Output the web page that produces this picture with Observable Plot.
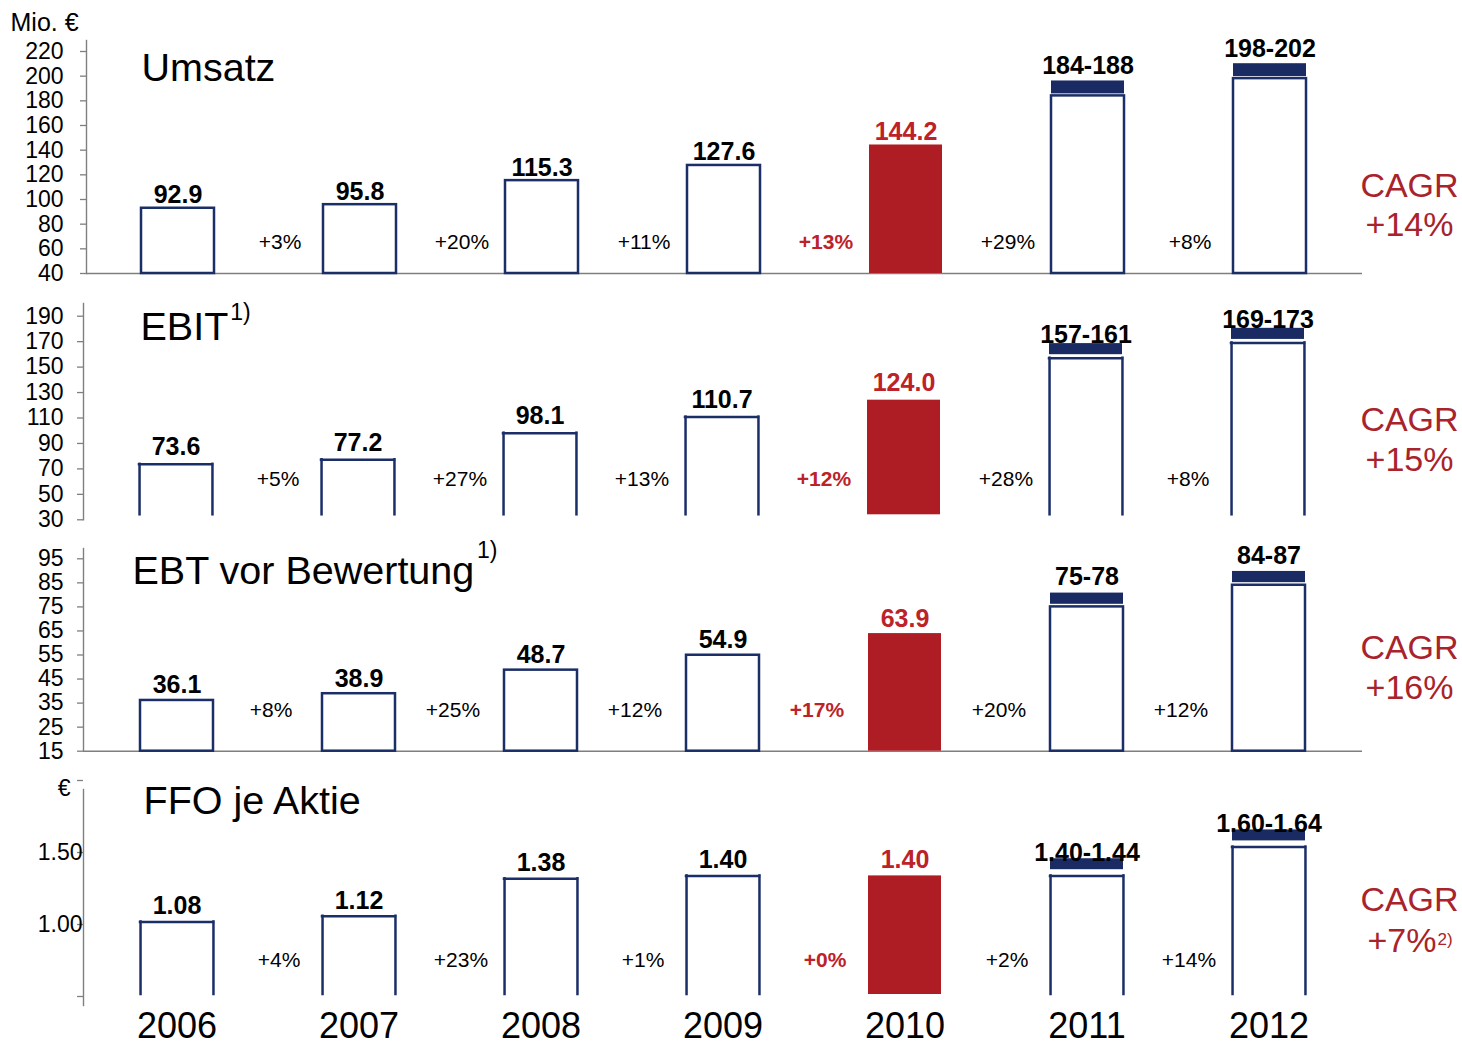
<!DOCTYPE html>
<html>
<head>
<meta charset="utf-8">
<script src="https://cdn.jsdelivr.net/npm/d3@7"></script>
<script src="https://cdn.jsdelivr.net/npm/@observablehq/plot@0.6"></script>
<style>
  body { margin: 0; background: #fff; }
  #chart { position: relative; width: 1462px; height: 1045px; overflow: hidden;
           font-family: "Liberation Sans", Arial, Helvetica, sans-serif; }
  #chart svg { position: absolute; left: 0; }
</style>
</head>
<body>
<div id="chart"></div>
<script>
// ---- Data -------------------------------------------------------------
const years = ["2006", "2007", "2008", "2009", "2010", "2011", "2012"];
const highlightYear = "2010";

const umsatzActual = [92.9, 95.8, 115.3, 127.6, 144.2];
const umsatzPlanLow = [184, 198];
const umsatzPlanHigh = [188, 202];
const umsatzGrowth = ["+3%", "+20%", "+11%", "+13%", "+29%", "+8%"];
const umsatzCagr = "+14%";
const umsatzTicks = [40, 60, 80, 100, 120, 140, 160, 180, 200, 220];

const ebitActual = [73.6, 77.2, 98.1, 110.7, 124.0];
const ebitPlanLow = [157, 169];
const ebitPlanHigh = [161, 173];
const ebitGrowth = ["+5%", "+27%", "+13%", "+12%", "+28%", "+8%"];
const ebitCagr = "+15%";
const ebitTicks = [30, 50, 70, 90, 110, 130, 150, 170, 190];

const ebtActual = [36.1, 38.9, 48.7, 54.9, 63.9];
const ebtPlanLow = [75, 84];
const ebtPlanHigh = [78, 87];
const ebtGrowth = ["+8%", "+25%", "+12%", "+17%", "+20%", "+12%"];
const ebtCagr = "+16%";
const ebtTicks = [15, 25, 35, 45, 55, 65, 75, 85, 95];

const ffoActual = [1.08, 1.12, 1.38, 1.40, 1.40];
const ffoPlanLow = [1.40, 1.60];
const ffoPlanHigh = [1.44, 1.64];
const ffoGrowth = ["+4%", "+23%", "+1%", "+0%", "+2%", "+14%"];
const ffoCagr = "+7%";
const ffoTicks = [0.5, 1.0, 1.5, 2.0];
const ffoTickLabels = ["", "1.00", "1.50", ""];

// ---- Styling ----------------------------------------------------------
const FONT = '"Liberation Sans", Arial, Helvetica, sans-serif';
const navy = "#1b2e68";
const capNavy = "#1a2b63";
const red = "#af1d24";
const redText = "#bd2229";
const cagrRed = "#a8232b";
const gray = "#7f7f7f";
const WIDTH = 1462;
const FRAME_RIGHT = 1362;
const TITLE_SIZE = 39.5;
const VALUE_SIZE = 25;

const measure = document.createElement("canvas").getContext("2d");
function textWidth(s, size, weight = "normal") {
  measure.font = `${weight} ${size}px "Liberation Sans", Arial, sans-serif`;
  return measure.measureText(s).width;
}

// Layout of the four stacked panels (page pixel positions).
const panels = [
  {
    title: "Umsatz", titleNote: null, unit: "Mio. €",
    actual: umsatzActual, low: umsatzPlanLow, high: umsatzPlanHigh,
    growth: umsatzGrowth, cagr: umsatzCagr, cagrNote: null,
    ticks: umsatzTicks, tickFormat: d => String(d), tickDy: 0, tickLabelRight: 63,
    domain: [40, 220], decimals: 1, rangeDecimals: 0,
    top: 0, height: 285, frameTop: 40, baseY: 273, maxY: 51, axisX: 86,
    xRange: [85, 1361], open: false, openGap: 0,
    valueDy: -5, rangeDy: -17, growthDy: -24.5, growthDx: -80,
    capInsetTop: -10, capInsetBottom: 2,
    titleX: 141, titleBaseline: 80, noteBaseline: 0,
    cagrX: 1409, cagrBaseline: 196.7, rateBaseline: 235
  },
  {
    title: "EBIT", titleNote: "1)", unit: null,
    actual: ebitActual, low: ebitPlanLow, high: ebitPlanHigh,
    growth: ebitGrowth, cagr: ebitCagr, cagrNote: null,
    ticks: ebitTicks, tickFormat: d => String(d), tickDy: 0, tickLabelRight: 63,
    domain: [30, 190], decimals: 1, rangeDecimals: 0,
    top: 285, height: 245, frameTop: 303, baseY: 519.3, maxY: 315.7, axisX: 83,
    xRange: [83, 1359], open: true, openGap: 5,
    valueDy: -9, rangeDy: -10, growthDy: -34.3, growthDx: -80,
    capInsetTop: -9.5, capInsetBottom: 3.5,
    titleX: 140, titleBaseline: 339, noteBaseline: 319,
    cagrX: 1409, cagrBaseline: 430, rateBaseline: 470
  },
  {
    title: "EBT vor Bewertung", titleNote: "1)", unit: null,
    actual: ebtActual, low: ebtPlanLow, high: ebtPlanHigh,
    growth: ebtGrowth, cagr: ebtCagr, cagrNote: null,
    ticks: ebtTicks, tickFormat: d => String(d), tickDy: 0, tickLabelRight: 63,
    domain: [15, 95], decimals: 1, rangeDecimals: 0,
    top: 530, height: 235, frameTop: 548, baseY: 750.7, maxY: 558.3, axisX: 83,
    xRange: [84, 1360], open: false, openGap: 0,
    valueDy: -7, rangeDy: -14.5, growthDy: -34, growthDx: -88,
    capInsetTop: -6.6, capInsetBottom: 2.6,
    titleX: 132, titleBaseline: 583.3, noteBaseline: 557,
    cagrX: 1409, cagrBaseline: 658.3, rateBaseline: 698.3
  },
  {
    title: "FFO je Aktie", titleNote: null, unit: "€",
    actual: ffoActual, low: ffoPlanLow, high: ffoPlanHigh,
    growth: ffoGrowth, cagr: ffoCagr, cagrNote: "2)",
    ticks: ffoTicks, tickFormat: d => ffoTickLabels[ffoTicks.indexOf(d)], tickDy: -9, tickLabelRight: 82,
    domain: [0.5, 2.0], decimals: 2, rangeDecimals: 2,
    top: 765, height: 280, frameTop: 789, baseY: 1005, maxY: 789, axisX: 83,
    xRange: [84, 1360], open: true, openGap: 11,
    valueDy: -7.5, rangeDy: -9, growthDy: -38.5, growthDx: -80,
    capInsetTop: -11.4, capInsetBottom: 6.2,
    titleX: 143, titleBaseline: 813, noteBaseline: 0,
    cagrX: 1409, cagrBaseline: 910.7, rateBaseline: 951.7,
    yearAxis: true
  }
];

function drawPanel(p) {
  const n = p.actual.length;
  const bars = years.map((year, i) => {
    if (i < n) return {year, value: p.actual[i], label: p.actual[i].toFixed(p.decimals)};
    const lo = p.low[i - n], hi = p.high[i - n];
    return {year, value: lo, high: hi,
            label: `${lo.toFixed(p.rangeDecimals)}-${hi.toFixed(p.rangeDecimals)}`};
  });
  const actual = bars.filter(d => d.high === undefined);
  const plan = bars.filter(d => d.high !== undefined);
  const outlined = bars.filter(d => d.year !== highlightYear);
  const highlighted = bars.filter(d => d.year === highlightYear);
  const growth = years.slice(1).map((year, i) => ({year, text: p.growth[i]}));
  const base = p.domain[0];
  const marginTop = p.frameTop - p.top;
  const marginBottom = p.top + p.height - p.baseY;
  const bandwidth = (p.xRange[1] - p.xRange[0]) / years.length * 0.4;

  const marks = [];

  // value axis: line, ticks and labels
  marks.push(Plot.frame({anchor: "left", stroke: gray, strokeWidth: 1.4}));
  marks.push(Plot.axisY({
    ticks: p.ticks, tickFormat: p.tickFormat, tickSize: 6,
    tickPadding: p.axisX - 6 - p.tickLabelRight, fontSize: 23, dy: p.tickDy,
    stroke: gray, strokeWidth: 1.3, label: null
  }));
  if (!p.open) marks.push(Plot.ruleY([base], {stroke: gray, strokeWidth: 1.5}));

  // bars
  if (p.open) {
    marks.push(Plot.rectY(outlined, {x: "year", y1: base, y2: "value", fill: "white", insetBottom: p.openGap}));
    marks.push(Plot.rectY(highlighted, {x: "year", y1: base, y2: "value", fill: red, insetBottom: p.openGap}));
    for (const side of [-1, 1]) {
      marks.push(Plot.ruleX(outlined, {
        x: "year", y1: "value", y2: base, dx: side * bandwidth / 2,
        insetBottom: p.openGap, stroke: navy, strokeWidth: 2.5, strokeLinecap: "square"
      }));
    }
    marks.push(Plot.tickY(outlined, {x: "year", y: "value", stroke: navy, strokeWidth: 2.5, strokeLinecap: "square"}));
  } else {
    marks.push(Plot.rectY(outlined, {x: "year", y1: base, y2: "value", fill: "white", stroke: navy, strokeWidth: 2.5}));
    marks.push(Plot.rectY(highlighted, {x: "year", y1: base, y2: "value", fill: red}));
  }

  // planning range cap on top of the forecast bars
  marks.push(Plot.rectY(plan, {
    x: "year", y1: "value", y2: "high", fill: capNavy,
    insetTop: p.capInsetTop, insetBottom: p.capInsetBottom
  }));

  // value labels
  const valueText = {x: "year", text: "label", lineAnchor: "bottom", fontSize: VALUE_SIZE, fontWeight: "bold"};
  marks.push(Plot.text(actual.filter(d => d.year !== highlightYear), {...valueText, y: "value", dy: p.valueDy, fill: "#000"}));
  marks.push(Plot.text(actual.filter(d => d.year === highlightYear), {...valueText, y: "value", dy: p.valueDy, fill: redText}));
  marks.push(Plot.text(plan, {...valueText, y: "high", dy: p.rangeDy, fill: "#000"}));

  // year-on-year growth between the bars
  const growthText = {x: "year", text: "text", frameAnchor: "bottom", lineAnchor: "bottom",
                      dx: p.growthDx, dy: p.growthDy, fontSize: 21};
  marks.push(Plot.text(growth.filter(d => d.year !== highlightYear), {...growthText, fill: "#000"}));
  marks.push(Plot.text(growth.filter(d => d.year === highlightYear), {...growthText, fill: redText, fontWeight: "bold"}));

  // panel title (with footnote marker)
  marks.push(Plot.text([p.title], {
    text: d => d, frameAnchor: "top-left", textAnchor: "start", lineAnchor: "bottom",
    dx: p.titleX - p.axisX, dy: p.titleBaseline - p.frameTop, fontSize: TITLE_SIZE, fill: "#000"
  }));
  if (p.titleNote) {
    marks.push(Plot.text([p.titleNote], {
      text: d => d, frameAnchor: "top-left", textAnchor: "start", lineAnchor: "bottom",
      dx: p.titleX - p.axisX + textWidth(p.title, TITLE_SIZE) + 2,
      dy: p.noteBaseline - p.frameTop, fontSize: 23, fill: "#000"
    }));
  }

  // unit label at the top of the axis
  if (p.unit === "Mio. €") {
    marks.push(Plot.text([p.unit], {
      text: d => d, frameAnchor: "top-left", textAnchor: "start", lineAnchor: "bottom",
      dx: 10 - p.axisX, dy: -10, fontSize: 25, fill: "#000"
    }));
  } else if (p.unit) {
    marks.push(Plot.text([p.unit], {
      text: d => d, frameAnchor: "top-left", textAnchor: "end", lineAnchor: "middle",
      dx: 70 - p.axisX, dy: -1, fontSize: 23, fill: "#000"
    }));
  }

  // CAGR
  const cagrSize = 34;
  marks.push(Plot.text(["CAGR"], {
    text: d => d, frameAnchor: "top-right", textAnchor: "middle", lineAnchor: "bottom",
    dx: p.cagrX - FRAME_RIGHT, dy: p.cagrBaseline - p.frameTop, fontSize: cagrSize, fill: cagrRed
  }));
  if (p.cagrNote) {
    const rateW = textWidth(p.cagr, cagrSize);
    const noteW = textWidth(p.cagrNote, 17);
    const start = p.cagrX - (rateW + noteW) / 2;
    marks.push(Plot.text([p.cagr], {
      text: d => d, frameAnchor: "top-right", textAnchor: "start", lineAnchor: "bottom",
      dx: start - FRAME_RIGHT, dy: p.rateBaseline - p.frameTop, fontSize: cagrSize, fill: cagrRed
    }));
    marks.push(Plot.text([p.cagrNote], {
      text: d => d, frameAnchor: "top-right", textAnchor: "start", lineAnchor: "bottom",
      dx: start + rateW + 1 - FRAME_RIGHT, dy: p.rateBaseline - 7 - p.frameTop, fontSize: 17, fill: cagrRed
    }));
  } else {
    marks.push(Plot.text([p.cagr], {
      text: d => d, frameAnchor: "top-right", textAnchor: "middle", lineAnchor: "bottom",
      dx: p.cagrX - FRAME_RIGHT, dy: p.rateBaseline - p.frameTop, fontSize: cagrSize, fill: cagrRed
    }));
  }

  // year labels under the last panel
  if (p.yearAxis) {
    marks.push(Plot.axisX({tickSize: 0, tickPadding: 6.5, fontSize: 36, label: null}));
  }

  const svg = Plot.plot({
    width: WIDTH,
    height: p.height,
    marginTop,
    marginBottom,
    marginLeft: p.axisX,
    marginRight: WIDTH - FRAME_RIGHT,
    style: {fontFamily: FONT, background: "transparent", overflow: "visible", color: "#000"},
    x: {type: "band", domain: years, range: p.xRange, paddingInner: 0.6, paddingOuter: 0.3, axis: null, label: null},
    y: {domain: p.domain, range: [p.baseY - p.top, p.maxY - p.top], axis: null, label: null},
    marks
  });
  svg.style.top = `${p.top}px`;
  return svg;
}

const root = document.getElementById("chart");
for (const p of panels) root.append(drawPanel(p));
</script>
</body>
</html>
